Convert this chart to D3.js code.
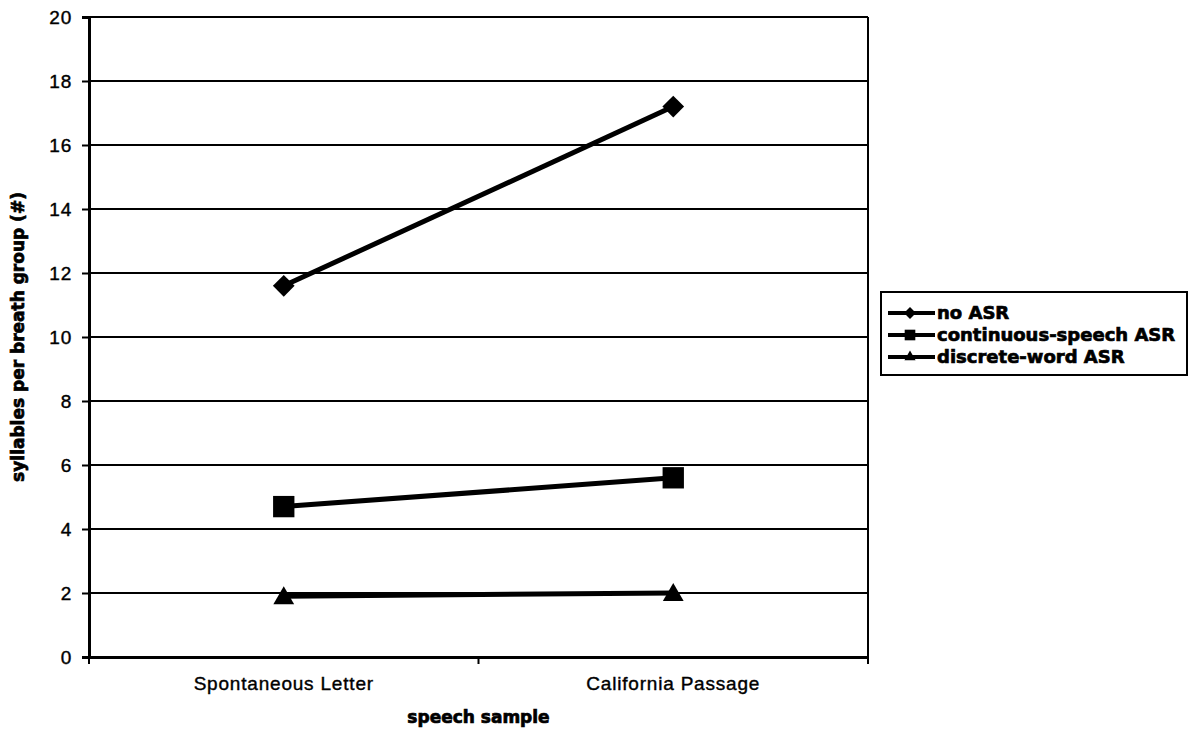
<!DOCTYPE html>
<html>
<head>
<meta charset="utf-8">
<script src="https://cdn.jsdelivr.net/npm/d3@7"></script>
<style>
  html, body { margin: 0; padding: 0; background: #fff; }
  svg { display: block; }
</style>
</head>
<body>
<svg id="chart" width="1193" height="733"></svg>
<script>
// Speech samples on the x axis
const categories = ["Spontaneous Letter", "California Passage"];
// Syllables per breath group for each condition
const noASR = [11.6, 17.2];
const continuousASR = [4.7, 5.6];
const discreteASR = [1.9, 2.0];
const seriesNames = ["no ASR", "continuous-speech ASR", "discrete-word ASR"];
const yTicks = [0, 2, 4, 6, 8, 10, 12, 14, 16, 18, 20];

const series = [
  { name: seriesNames[0], values: noASR, symbol: "diamond" },
  { name: seriesNames[1], values: continuousASR, symbol: "square" },
  { name: seriesNames[2], values: discreteASR, symbol: "triangle" }
];

const svg = d3.select("#chart");
const plot = { left: 89, top: 17, right: 868, bottom: 657 };

const x = d3.scaleBand().domain(categories).range([plot.left, plot.right]).paddingInner(0).paddingOuter(0);
const y = d3.scaleLinear().domain([0, 20]).range([plot.bottom, plot.top]);

const tickFont = "'Liberation Sans', Arial, sans-serif";
const boldFont = "'DejaVu Sans', sans-serif";

// Horizontal gridlines
svg.append("g")
  .selectAll("line")
  .data(yTicks.filter(d => d > 0))
  .join("line")
  .attr("x1", plot.left).attr("x2", plot.right)
  .attr("y1", d => y(d)).attr("y2", d => y(d))
  .attr("stroke", "#000").attr("stroke-width", 2);

// Right edge of the plot area
svg.append("line")
  .attr("x1", plot.right).attr("x2", plot.right)
  .attr("y1", plot.top).attr("y2", plot.bottom)
  .attr("stroke", "#000").attr("stroke-width", 2);

function styleTickText(sel) {
  sel.attr("font-family", tickFont).attr("font-size", 19).attr("letter-spacing", "0.8px")
    .attr("fill", "#000").attr("stroke", "#000").attr("stroke-width", 0.4);
}

// Y axis
const yAxis = svg.append("g")
  .attr("transform", `translate(${plot.left},0)`)
  .call(d3.axisLeft(y).tickValues(yTicks).tickSize(7).tickPadding(10));
yAxis.select(".domain").attr("stroke-width", 3);
yAxis.selectAll(".tick line").attr("stroke-width", 2);
yAxis.selectAll("text").call(styleTickText);

// X axis: ticks sit on category boundaries
const xAxis = svg.append("g")
  .attr("transform", `translate(0,${plot.bottom})`)
  .call(d3.axisBottom(x).tickSize(0).tickPadding(20));
xAxis.select(".domain").attr("stroke-width", 3);
xAxis.selectAll("text").call(styleTickText);
const bounds = [plot.left, ...categories.map(c => x(c) + x.bandwidth())];
svg.append("g").selectAll("line")
  .data(bounds)
  .join("line")
  .attr("x1", d => d).attr("x2", d => d)
  .attr("y1", plot.bottom).attr("y2", plot.bottom + 7)
  .attr("stroke", "#000").attr("stroke-width", 2);

function styleBold(sel, size) {
  sel.attr("font-family", boldFont).attr("font-weight", "bold").attr("font-size", size)
    .attr("fill", "#000").attr("stroke", "#000").attr("stroke-width", 0.7);
}

// Axis titles
svg.append("text")
  .attr("x", (plot.left + plot.right) / 2).attr("y", 723)
  .attr("text-anchor", "middle")
  .call(styleBold, 17)
  .text("speech sample");

svg.append("text")
  .attr("transform", `translate(24,${(plot.top + plot.bottom) / 2}) rotate(-90)`)
  .attr("text-anchor", "middle")
  .call(styleBold, 17)
  .text("syllables per breath group (#)");

function markerPath(sym, big) {
  if (sym === "diamond") return d3.symbol(d3.symbolDiamond2, big ? 300 : 90)();
  if (sym === "square") return d3.symbol(d3.symbolSquare2, big ? 580 : 144)();
  return d3.symbol(d3.symbolTriangle2, big ? 310 : 90)();
}

const cx = c => x(c) + x.bandwidth() / 2;
const line = d3.line().x((d, i) => cx(categories[i])).y(d => y(d));

// Series lines and markers
series.forEach(s => {
  svg.append("path")
    .datum(s.values)
    .attr("d", line)
    .attr("fill", "none").attr("stroke", "#000").attr("stroke-width", 5);
  svg.append("g").selectAll("path")
    .data(s.values)
    .join("path")
    .attr("d", markerPath(s.symbol, true))
    .attr("transform", (d, i) => `translate(${cx(categories[i])},${y(d) + (s.symbol === "triangle" ? 2 : 0)})`)
    .attr("fill", "#000");
});

// Legend
const legend = svg.append("g");
legend.append("rect")
  .attr("x", 881).attr("y", 292).attr("width", 306).attr("height", 83)
  .attr("fill", "#fff").attr("stroke", "#000").attr("stroke-width", 2);
series.forEach((s, i) => {
  const ly = 313 + i * 22;
  legend.append("line")
    .attr("x1", 888).attr("x2", 935).attr("y1", ly).attr("y2", ly)
    .attr("stroke", "#000").attr("stroke-width", 4);
  legend.append("path")
    .attr("d", markerPath(s.symbol, false))
    .attr("transform", `translate(910,${ly})`)
    .attr("fill", "#000");
  legend.append("text")
    .attr("x", 937).attr("y", ly).attr("dy", "0.36em")
    .call(styleBold, 18)
    .text(s.name);
});
</script>
</body>
</html>
